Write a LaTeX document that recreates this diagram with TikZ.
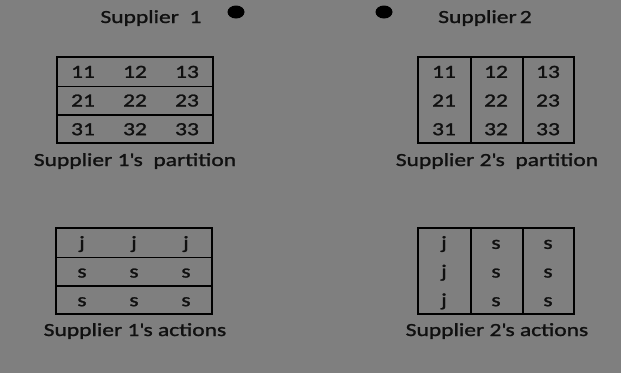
\documentclass[tikz,border=0pt]{standalone}
\usepackage{fontspec}
\setmainfont{Carlito}[FakeStretch=1.27, FakeBold=1.3]
\usetikzlibrary{positioning, matrix, shapes.geometric}
\definecolor{bggray}{HTML}{7F7F7F}
\definecolor{ink}{HTML}{101010}
\tikzstyle{parttable} = [matrix of nodes,
draw=black,
line width=1.5pt,
inner sep=0pt,
nodes={minimum width=52pt, minimum height=28.67pt, text height=17pt, text depth=4pt, inner sep=0pt, text=ink}]
\tikzstyle{caption} = [anchor=base, text=ink, inner sep=0pt]
\tikzstyle{dot} = [ellipse, fill=black, minimum width=17pt, minimum height=13pt, inner sep=0pt]
\tikzstyle{divider} = [line width=1.5pt, black]
\newcommand{\q}{\textquotesingle}

\begin{document}
\begin{tikzpicture} [x=1pt, y=-1pt, every node/.style={font=\fontsize{18.5}{20}\selectfont}]
		
		% Canvas
		\fill[bggray] (0,0) rectangle (621,373);
		\useasboundingbox (0,0) rectangle (621,373);
		
		% Supplier titles and markers
		\node[caption] (title1) at (151, 23) {Supplier\ \ 1};
		\node[caption] (title2) at (485, 23) {Supplier\,2};
		\node[dot] (dot1) at (236, 12) {};
		\node[dot] (dot2) at (384, 12) {};
		
		% Supplier 1's partition (rows)
		\node (part1) [parttable] at (135, 100) {
			11 & 12 & 13 \\
			21 & 22 & 23 \\
			31 & 32 & 33 \\
		};
		\foreach \i in {1,2}
			\draw[divider] (part1.west |- part1-\i-1.south) -- (part1.east |- part1-\i-1.south);
		\node[caption] (lab1) at (135, 166) {Supplier 1\q s\ \ partition};
		
		% Supplier 2's partition (columns)
		\node (part2) [parttable] at (496, 100) {
			11 & 12 & 13 \\
			21 & 22 & 23 \\
			31 & 32 & 33 \\
		};
		\foreach \j in {1,2}
			\draw[divider] (part2-1-\j.east |- part2.north) -- (part2-1-\j.east |- part2.south);
		\node[caption] (lab2) at (497, 166) {Supplier 2\q s\ \ partition};
		
		% Supplier 1's actions
		\node (act1) [parttable] at (134, 271) {
			j & j & j \\
			s & s & s \\
			s & s & s \\
		};
		\foreach \i in {1,2}
			\draw[divider] (act1.west |- act1-\i-1.south) -- (act1.east |- act1-\i-1.south);
		\node[caption] (lab3) at (135, 336) {Supplier 1\q s actions};
		
		% Supplier 2's actions
		\node (act2) [parttable] at (496, 271) {
			j & s & s \\
			j & s & s \\
			j & s & s \\
		};
		\foreach \j in {1,2}
			\draw[divider] (act2-1-\j.east |- act2.north) -- (act2-1-\j.east |- act2.south);
		\node[caption] (lab4) at (497, 336) {Supplier 2\q s actions};
		
	\end{tikzpicture}
\end{document}
